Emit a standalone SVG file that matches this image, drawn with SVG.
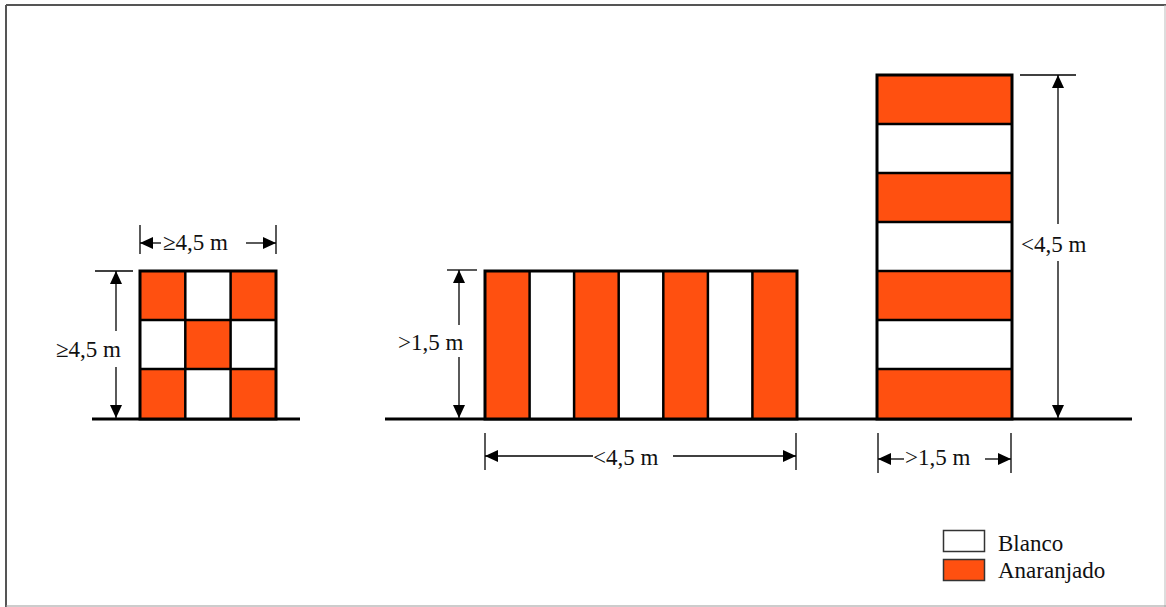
<svg xmlns="http://www.w3.org/2000/svg" width="1166" height="607" viewBox="0 0 1166 607">
<style>
.or{fill:#FF5010}
.wh{fill:#FFFFFF}
.box{fill:none;stroke:#000;stroke-width:3}
.sep{stroke:#000;stroke-width:2.5}
.ground{stroke:#000;stroke-width:3}
.dim{stroke:#000;stroke-width:1.3;fill:none}
.ext{stroke:#000;stroke-width:1.3}
text{font-family:"Liberation Serif","Times New Roman",serif;font-size:23px;fill:#111}
</style>
<defs>
<marker id="ah" markerWidth="14" markerHeight="12" refX="13" refY="6" orient="auto-start-reverse" markerUnits="userSpaceOnUse">
<path d="M0,0 L13,6 L0,12 z" fill="#000"/>
</marker>
</defs>
<rect x="0" y="0" width="1166" height="607" fill="#fff"/>
<g id="frame">
<line x1="6" y1="5" x2="1166" y2="5" stroke="#555" stroke-width="2"/>
<line x1="6" y1="5" x2="6" y2="607" stroke="#555" stroke-width="2"/>
<line x1="1165" y1="5" x2="1165" y2="607" stroke="#bbb" stroke-width="1"/>
<line x1="6" y1="606" x2="1166" y2="606" stroke="#999" stroke-width="1.2"/>
</g>
<g id="ground">
<line class="ground" x1="92" y1="419" x2="300" y2="419"/>
<line class="ground" x1="385" y1="419" x2="1132" y2="419"/>
</g>
<g id="checker">
<rect class="or" x="140" y="271" width="45.3" height="49"/>
<rect class="wh" x="185.3" y="271" width="45.3" height="49"/>
<rect class="or" x="230.6" y="271" width="45.4" height="49"/>
<rect class="wh" x="140" y="320" width="45.3" height="49"/>
<rect class="or" x="185.3" y="320" width="45.3" height="49"/>
<rect class="wh" x="230.6" y="320" width="45.4" height="49"/>
<rect class="or" x="140" y="369" width="45.3" height="50"/>
<rect class="wh" x="185.3" y="369" width="45.3" height="50"/>
<rect class="or" x="230.6" y="369" width="45.4" height="50"/>
<line class="sep" x1="185.3" y1="271" x2="185.3" y2="419"/>
<line class="sep" x1="230.6" y1="271" x2="230.6" y2="419"/>
<line class="sep" x1="140" y1="320" x2="276" y2="320"/>
<line class="sep" x1="140" y1="369" x2="276" y2="369"/>
<rect class="box" x="140" y="271" width="136" height="148"/>
</g>
<g id="vstripes">
<rect class="or" x="485" y="271" width="44.6" height="148"/>
<rect class="wh" x="529.6" y="271" width="44.6" height="148"/>
<rect class="or" x="574.1" y="271" width="44.6" height="148"/>
<rect class="wh" x="618.7" y="271" width="44.6" height="148"/>
<rect class="or" x="663.3" y="271" width="44.6" height="148"/>
<rect class="wh" x="707.9" y="271" width="44.6" height="148"/>
<rect class="or" x="752.4" y="271" width="44.6" height="148"/>
<line class="sep" x1="529.6" y1="271" x2="529.6" y2="419"/>
<line class="sep" x1="574.1" y1="271" x2="574.1" y2="419"/>
<line class="sep" x1="618.7" y1="271" x2="618.7" y2="419"/>
<line class="sep" x1="663.3" y1="271" x2="663.3" y2="419"/>
<line class="sep" x1="707.9" y1="271" x2="707.9" y2="419"/>
<line class="sep" x1="752.4" y1="271" x2="752.4" y2="419"/>
<rect class="box" x="485" y="271" width="312" height="148"/>
</g>
<g id="hstripes">
<rect class="or" x="877" y="75" width="135" height="49"/>
<rect class="wh" x="877" y="124" width="135" height="49"/>
<rect class="or" x="877" y="173" width="135" height="49"/>
<rect class="wh" x="877" y="222" width="135" height="49"/>
<rect class="or" x="877" y="271" width="135" height="49"/>
<rect class="wh" x="877" y="320" width="135" height="49"/>
<rect class="or" x="877" y="369" width="135" height="50"/>
<line class="sep" x1="877" y1="124" x2="1012" y2="124"/>
<line class="sep" x1="877" y1="173" x2="1012" y2="173"/>
<line class="sep" x1="877" y1="222" x2="1012" y2="222"/>
<line class="sep" x1="877" y1="271" x2="1012" y2="271"/>
<line class="sep" x1="877" y1="320" x2="1012" y2="320"/>
<line class="sep" x1="877" y1="369" x2="1012" y2="369"/>
<rect class="box" x="877" y="75" width="135" height="344"/>
</g>
<g id="dimensions">
<!-- checker width -->
<line class="ext" x1="140" y1="225" x2="140" y2="254"/>
<line class="ext" x1="276" y1="225" x2="276" y2="254"/>
<line class="dim" x1="140" y1="243" x2="161" y2="243" marker-start="url(#ah)"/>
<line class="dim" x1="246" y1="243" x2="276" y2="243" marker-end="url(#ah)"/>
<!-- checker height -->
<line class="ext" x1="95" y1="271" x2="133" y2="271"/>
<line class="dim" x1="116" y1="271" x2="116" y2="331" marker-start="url(#ah)"/>
<line class="dim" x1="116" y1="367" x2="116" y2="418" marker-end="url(#ah)"/>
<!-- middle height -->
<line class="ext" x1="447" y1="270" x2="477" y2="270"/>
<line class="dim" x1="459" y1="270" x2="459" y2="325" marker-start="url(#ah)"/>
<line class="dim" x1="459" y1="357" x2="459" y2="418" marker-end="url(#ah)"/>
<!-- middle width -->
<line class="ext" x1="485" y1="433" x2="485" y2="470"/>
<line class="ext" x1="796" y1="433" x2="796" y2="470"/>
<line class="dim" x1="485" y1="456" x2="593" y2="456" marker-start="url(#ah)"/>
<line class="dim" x1="673" y1="456" x2="796" y2="456" marker-end="url(#ah)"/>
<!-- right height -->
<line class="ext" x1="1020" y1="75" x2="1076" y2="75"/>
<line class="dim" x1="1058" y1="75" x2="1058" y2="224" marker-start="url(#ah)"/>
<line class="dim" x1="1058" y1="261" x2="1058" y2="418" marker-end="url(#ah)"/>
<!-- right width -->
<line class="ext" x1="878" y1="433" x2="878" y2="473"/>
<line class="ext" x1="1011" y1="433" x2="1011" y2="473"/>
<line class="dim" x1="878" y1="459" x2="904" y2="459" marker-start="url(#ah)"/>
<line class="dim" x1="985" y1="459" x2="1011" y2="459" marker-end="url(#ah)"/>
</g>
<g id="labels">
<text x="163" y="250">≥4,5 m</text>
<text x="56" y="357">≥4,5 m</text>
<text x="398" y="350">&gt;1,5 m</text>
<text x="593" y="465">&lt;4,5 m</text>
<text x="1021" y="252">&lt;4,5 m</text>
<text x="905" y="465">&gt;1,5 m</text>
</g>
<g id="legend">
<rect x="943.5" y="530.5" width="41" height="21" fill="#fff" stroke="#333" stroke-width="1.5"/>
<rect x="943.5" y="559.5" width="41" height="21" fill="#FF5010" stroke="#333" stroke-width="1.5"/>
<text x="998" y="551">Blanco</text>
<text x="998" y="578">Anaranjado</text>
</g>
</svg>
